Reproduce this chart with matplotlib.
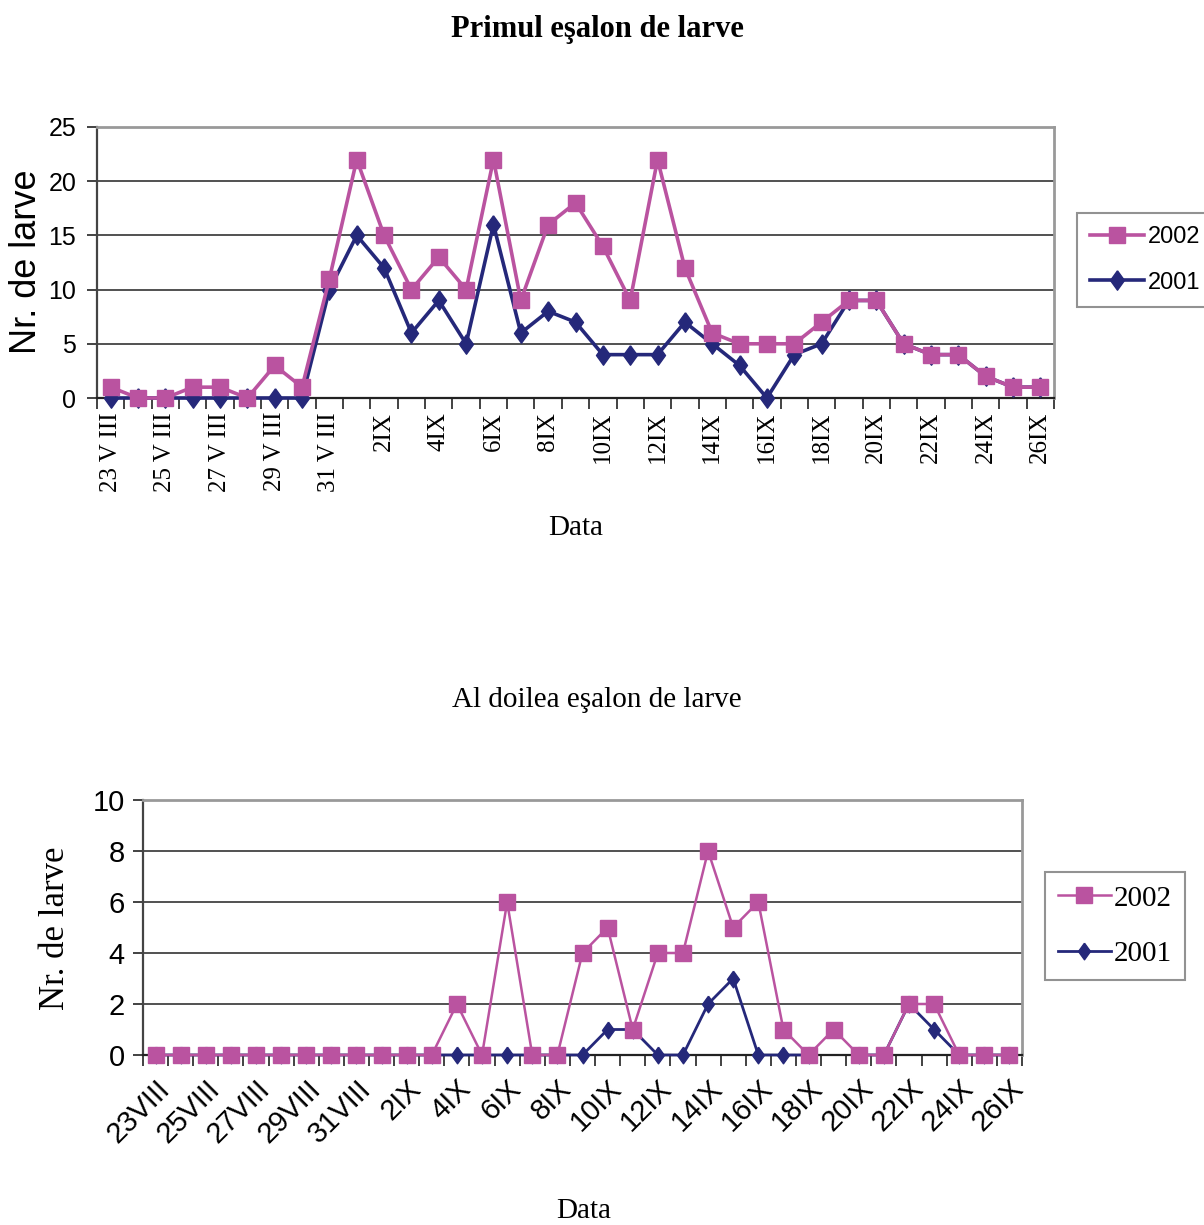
import numpy as np
import matplotlib.pyplot as plt
from matplotlib.ticker import FixedLocator

# date categories 23 VIII .. 26 IX (35 days), labels on every second day
top_labels = ['23 V III', '25 V III', '27 V III', '29 V III', '31 V III',
              '2IX', '4IX', '6IX', '8IX', '10IX', '12IX', '14IX', '16IX',
              '18IX', '20IX', '22IX', '24IX', '26IX']
bottom_labels = ['23VIII', '25VIII', '27VIII', '29VIII', '31VIII',
                 '2IX', '4IX', '6IX', '8IX', '10IX', '12IX', '14IX', '16IX',
                 '18IX', '20IX', '22IX', '24IX', '26IX']

# primul esalon de larve
top_2002 = [1, 0, 0, 1, 1, 0, 3, 1, 11,
            22, 15, 10, 13, 10, 22, 9, 16, 18, 14,
            9, 22, 12, 6, 5, 5, 5, 7, 9, 9,
            5, 4, 4, 2, 1, 1]
top_2001 = [0, 0, 0, 0, 0, 0, 0, 0, 10,
            15, 12, 6, 9, 5, 16, 6, 8, 7, 4,
            4, 4, 7, 5, 3, 0, 4, 5, 9, 9,
            5, 4, 4, 2, 1, 1]

# al doilea esalon de larve
bot_2002 = [0, 0, 0, 0, 0, 0, 0, 0, 0,
            0, 0, 0, 2, 0, 6, 0, 0, 4, 5,
            1, 4, 4, 8, 5, 6, 1, 0, 1, 0,
            0, 2, 2, 0, 0, 0]
bot_2001 = [0, 0, 0, 0, 0, 0, 0, 0, 0,
            0, 0, 0, 0, 0, 0, 0, 0, 0, 1,
            1, 0, 0, 2, 3, 0, 0, 0, np.nan, 0,
            0, 2, 1, 0, 0, 0]

PINK = '#BA53A0'
NAVY = '#25287A'
diamond = [(0, 1), (0.72, 0), (0, -1), (-0.72, 0), (0, 1)]

SANS = ['Liberation Sans', 'DejaVu Sans']
SERIF = ['Liberation Serif', 'DejaVu Serif']

fig = plt.figure(figsize=(12.04, 12.25), dpi=100)
W, H = 1204, 1225


def box(l, t, r, b):
    return [l / W, 1 - b / H, (r - l) / W, (b - t) / H]


def style_axes(ax, n, ymax, ystep):
    x = np.arange(n)
    ax.set_xlim(-0.5, n - 0.5)
    ax.set_ylim(0, ymax)
    ax.set_yticks(np.arange(0, ymax + 1, ystep))
    for y in np.arange(ystep, ymax, ystep):
        ax.axhline(y, color='#222222', lw=1.1, zorder=1)
    ax.xaxis.set_major_locator(FixedLocator(x[::2]))
    ax.xaxis.set_minor_locator(FixedLocator(np.arange(n + 1) - 0.5))
    ax.tick_params(axis='x', which='major', length=0)
    ax.tick_params(axis='x', which='minor', length=8, width=1.2, color='#222222')
    ax.tick_params(axis='y', length=7, width=1.2, color='#222222')
    for s in ('top', 'right'):
        ax.spines[s].set_color('#999999')
        ax.spines[s].set_linewidth(2)
    ax.spines['left'].set_color('#444444')
    ax.spines['left'].set_linewidth(1.6)
    ax.spines['bottom'].set_color('#222222')
    ax.spines['bottom'].set_linewidth(1.6)
    return x


# ---- primul esalon
ax1 = fig.add_axes(box(97, 127, 1054, 398))
x = style_axes(ax1, len(top_2002), 25, 5)
l01, = ax1.plot(x, top_2001, color=NAVY, lw=2.6, marker=diamond, ms=14,
                mec=NAVY, zorder=3, clip_on=False, label='2001')
l02, = ax1.plot(x, top_2002, color=PINK, lw=2.6, marker='s', ms=11.5,
                mec=PINK, zorder=4, clip_on=False, label='2002')
ax1.set_xticklabels(top_labels, rotation=90, family=SERIF, fontsize=18,
                    va='top', ha='center')
ax1.tick_params(axis='x', pad=10)
ax1.tick_params(axis='y', pad=8)
for t in ax1.get_yticklabels():
    t.set_family(SANS)
    t.set_fontsize(18)
fig.text(597 / W, 1 - 30 / H, 'Primul eşalon de larve', family=SERIF,
         fontweight='bold', fontsize=22, ha='center', va='center')
fig.text(27 / W, 1 - 262 / H, 'Nr. de larve', family=SANS, fontsize=26,
         rotation=90, ha='center', va='center')
fig.text(576 / W, 1 - 528 / H, 'Data', family=SERIF, fontsize=21,
         ha='center', va='center')
leg1 = fig.legend([l02, l01], ['2002', '2001'], loc='upper left',
                  bbox_to_anchor=(1077 / W, 1 - 213 / H),
                  prop={'family': SANS, 'size': 17}, frameon=True,
                  fancybox=False, edgecolor='#777777', handlelength=2.3,
                  handletextpad=0.15, borderpad=0.55, labelspacing=1.0,
                  borderaxespad=0)
leg1.get_frame().set_linewidth(1.5)

# ---- al doilea esalon
ax2 = fig.add_axes(box(143, 800, 1022, 1055))
x = style_axes(ax2, len(bot_2002), 10, 2)
l11, = ax2.plot(x, bot_2001, color=NAVY, lw=2.0, marker=diamond, ms=12,
                mec=NAVY, zorder=3, clip_on=False, label='2001')
l12, = ax2.plot(x, bot_2002, color=PINK, lw=1.8, marker='s', ms=11,
                mec=PINK, zorder=4, clip_on=False, label='2002')
ax2.set_xticklabels(bottom_labels, rotation=45, family=SANS, fontsize=21,
                    ha='right', va='top', rotation_mode='anchor')
ax2.tick_params(axis='x', pad=14)
ax2.tick_params(axis='y', pad=6)
for t in ax2.get_yticklabels():
    t.set_family(SANS)
    t.set_fontsize(21)
fig.text(597 / W, 1 - 700 / H, 'Al doilea eşalon de larve', family=SERIF,
         fontsize=21, ha='center', va='center')
fig.text(55 / W, 1 - 928 / H, 'Nr. de larve', family=SERIF, fontsize=25,
         rotation=90, ha='center', va='center')
fig.text(584 / W, 1 - 1211 / H, 'Data', family=SERIF, fontsize=21,
         ha='center', va='center')
leg2 = fig.legend([l12, l11], ['2002', '2001'], loc='upper left',
                  bbox_to_anchor=(1045 / W, 1 - 872 / H),
                  prop={'family': SERIF, 'size': 21}, frameon=True,
                  fancybox=False, edgecolor='#777777', handlelength=1.8,
                  handletextpad=0.1, borderpad=0.45, labelspacing=1.0,
                  borderaxespad=0)
leg2.get_frame().set_linewidth(1.5)

fig.savefig('out.png', dpi=100)
